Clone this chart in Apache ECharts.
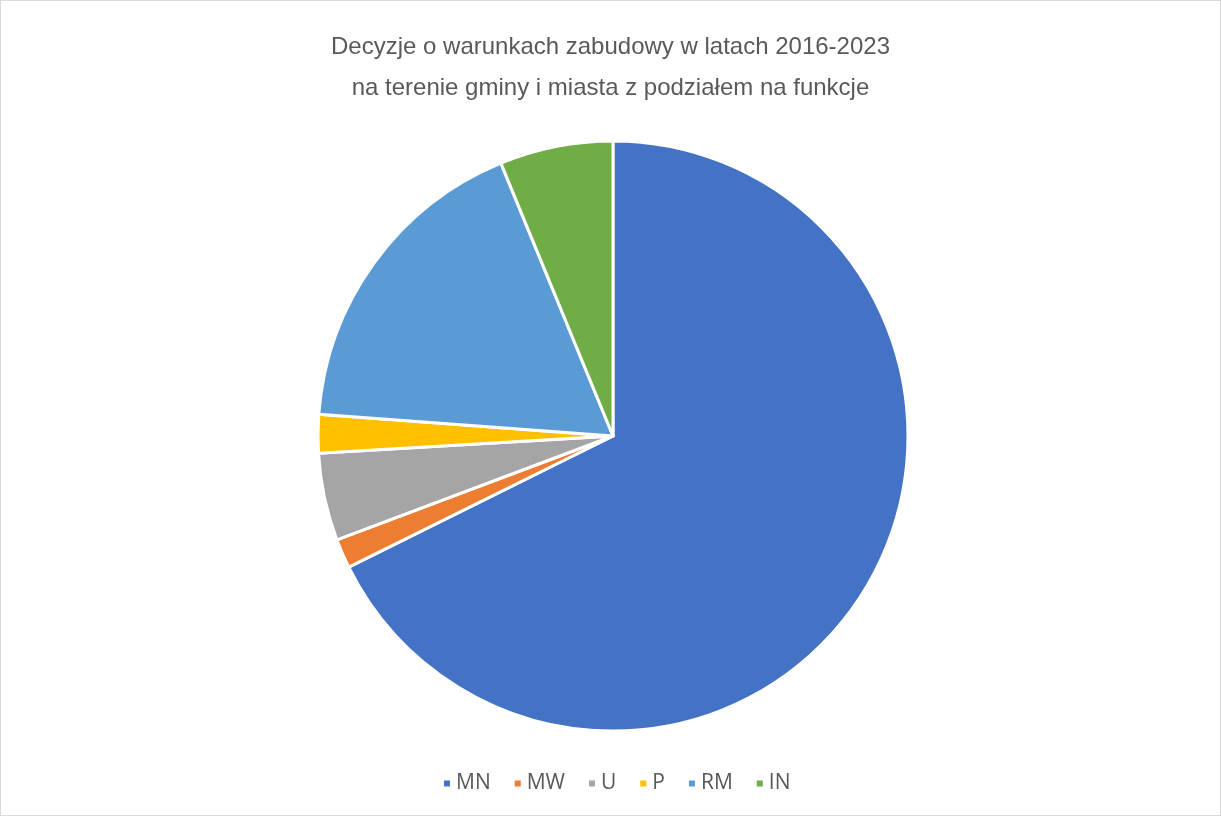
<!DOCTYPE html>
<html><head><meta charset="utf-8">
<script src="https://cdn.jsdelivr.net/npm/echarts@6/dist/echarts.min.js"></script>
<style>
html,body{margin:0;padding:0;background:#fff;}
#c{position:absolute;left:0;top:0;width:1221px;height:816px;box-sizing:border-box;border:1px solid #d9d9d9;}
</style></head>
<body><div id="c"></div>
<script>
const titleLines = ['Decyzje o warunkach zabudowy w latach 2016-2023', 'na terenie gminy i miasta z podziałem na funkcje'];
const categories = ['MN', 'MW', 'U', 'P', 'RM', 'IN'];
const values = [67.6, 1.6, 4.8, 2.1, 17.6, 6.2];
const colors = ['#4472C4', '#ED7D31', '#A5A5A5', '#FFC000', '#5B9BD5', '#70AD47'];

const chart = echarts.init(document.getElementById('c'), null, {renderer: 'canvas'});
chart.setOption({
  animation: false,
  color: colors,
  title: {
    text: titleLines.join('\n'),
    left: 'center',
    top: 21,
    textStyle: {fontFamily: 'Liberation Sans', fontSize: 24, fontWeight: 'normal', color: '#595959', lineHeight: 41}
  },
  legend: {
    data: categories,
    bottom: 16,
    left: 436,
    icon: 'rect',
    itemWidth: 8,
    itemHeight: 8,
    itemGap: 22,
    textStyle: {fontFamily: 'Open Sans', fontSize: 21, color: '#595959'}
  },
  series: [{
    type: 'pie',
    center: [612, 435],
    radius: [0, 295],
    startAngle: 90,
    clockwise: true,
    label: {show: false},
    labelLine: {show: false},
    itemStyle: {borderColor: '#fff', borderWidth: 3},
    data: categories.map((c, i) => ({name: c, value: values[i]}))
  }]
});
</script>
</body></html>
